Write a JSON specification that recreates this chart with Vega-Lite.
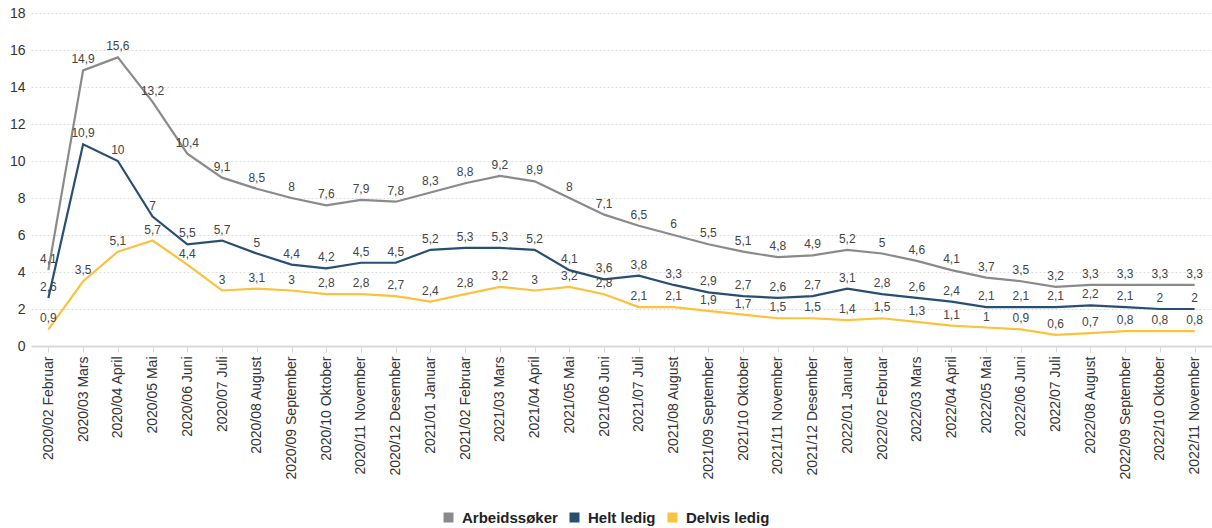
{
  "$schema": "https://vega.github.io/schema/vega-lite/v6.json",
  "width": 1181,
  "height": 333,
  "autosize": "none",
  "padding": {"left": 31, "top": 13, "right": 0, "bottom": 182},
  "background": "white",
  "config": {
    "locale": {"number": {"decimal": ",", "thousands": " ", "grouping": [3], "currency": ["", " kr"]}},
    "font": "Liberation Sans",
    "view": {"stroke": null}
  },
  "data": {"values": [
    {"m": "2020/02 Februar", "Arbeidssøker": 4.1, "Helt ledig": 2.6, "Delvis ledig": 0.9},
    {"m": "2020/03 Mars", "Arbeidssøker": 14.9, "Helt ledig": 10.9, "Delvis ledig": 3.5},
    {"m": "2020/04 April", "Arbeidssøker": 15.6, "Helt ledig": 10, "Delvis ledig": 5.1},
    {"m": "2020/05 Mai", "Arbeidssøker": 13.2, "Helt ledig": 7, "Delvis ledig": 5.7},
    {"m": "2020/06 Juni", "Arbeidssøker": 10.4, "Helt ledig": 5.5, "Delvis ledig": 4.4},
    {"m": "2020/07 Juli", "Arbeidssøker": 9.1, "Helt ledig": 5.7, "Delvis ledig": 3},
    {"m": "2020/08 August", "Arbeidssøker": 8.5, "Helt ledig": 5, "Delvis ledig": 3.1},
    {"m": "2020/09 September", "Arbeidssøker": 8, "Helt ledig": 4.4, "Delvis ledig": 3},
    {"m": "2020/10 Oktober", "Arbeidssøker": 7.6, "Helt ledig": 4.2, "Delvis ledig": 2.8},
    {"m": "2020/11 November", "Arbeidssøker": 7.9, "Helt ledig": 4.5, "Delvis ledig": 2.8},
    {"m": "2020/12 Desember", "Arbeidssøker": 7.8, "Helt ledig": 4.5, "Delvis ledig": 2.7},
    {"m": "2021/01 Januar", "Arbeidssøker": 8.3, "Helt ledig": 5.2, "Delvis ledig": 2.4},
    {"m": "2021/02 Februar", "Arbeidssøker": 8.8, "Helt ledig": 5.3, "Delvis ledig": 2.8},
    {"m": "2021/03 Mars", "Arbeidssøker": 9.2, "Helt ledig": 5.3, "Delvis ledig": 3.2},
    {"m": "2021/04 April", "Arbeidssøker": 8.9, "Helt ledig": 5.2, "Delvis ledig": 3},
    {"m": "2021/05 Mai", "Arbeidssøker": 8, "Helt ledig": 4.1, "Delvis ledig": 3.2},
    {"m": "2021/06 Juni", "Arbeidssøker": 7.1, "Helt ledig": 3.6, "Delvis ledig": 2.8},
    {"m": "2021/07 Juli", "Arbeidssøker": 6.5, "Helt ledig": 3.8, "Delvis ledig": 2.1},
    {"m": "2021/08 August", "Arbeidssøker": 6, "Helt ledig": 3.3, "Delvis ledig": 2.1},
    {"m": "2021/09 September", "Arbeidssøker": 5.5, "Helt ledig": 2.9, "Delvis ledig": 1.9},
    {"m": "2021/10 Oktober", "Arbeidssøker": 5.1, "Helt ledig": 2.7, "Delvis ledig": 1.7},
    {"m": "2021/11 November", "Arbeidssøker": 4.8, "Helt ledig": 2.6, "Delvis ledig": 1.5},
    {"m": "2021/12 Desember", "Arbeidssøker": 4.9, "Helt ledig": 2.7, "Delvis ledig": 1.5},
    {"m": "2022/01 Januar", "Arbeidssøker": 5.2, "Helt ledig": 3.1, "Delvis ledig": 1.4},
    {"m": "2022/02 Februar", "Arbeidssøker": 5, "Helt ledig": 2.8, "Delvis ledig": 1.5},
    {"m": "2022/03 Mars", "Arbeidssøker": 4.6, "Helt ledig": 2.6, "Delvis ledig": 1.3},
    {"m": "2022/04 April", "Arbeidssøker": 4.1, "Helt ledig": 2.4, "Delvis ledig": 1.1},
    {"m": "2022/05 Mai", "Arbeidssøker": 3.7, "Helt ledig": 2.1, "Delvis ledig": 1},
    {"m": "2022/06 Juni", "Arbeidssøker": 3.5, "Helt ledig": 2.1, "Delvis ledig": 0.9},
    {"m": "2022/07 Juli", "Arbeidssøker": 3.2, "Helt ledig": 2.1, "Delvis ledig": 0.6},
    {"m": "2022/08 August", "Arbeidssøker": 3.3, "Helt ledig": 2.2, "Delvis ledig": 0.7},
    {"m": "2022/09 September", "Arbeidssøker": 3.3, "Helt ledig": 2.1, "Delvis ledig": 0.8},
    {"m": "2022/10 Oktober", "Arbeidssøker": 3.3, "Helt ledig": 2, "Delvis ledig": 0.8},
    {"m": "2022/11 November", "Arbeidssøker": 3.3, "Helt ledig": 2, "Delvis ledig": 0.8}
  ]},
  "transform": [
    {"fold": ["Arbeidssøker", "Helt ledig", "Delvis ledig"], "as": ["s", "v"]}
  ],
  "encoding": {
    "x": {
      "field": "m", "type": "ordinal", "sort": null,
      "scale": {"type": "point", "padding": 0.5},
      "axis": {
        "title": null, "labelAngle": 270, "labelFontSize": 14, "labelColor": "#333333",
        "domainColor": "#d9d9d9", "domainWidth": 2, "tickColor": "#d9d9d9", "tickSize": 6,
        "labelPadding": 4, "grid": false
      }
    },
    "y": {
      "field": "v", "type": "quantitative",
      "scale": {"domain": [0, 18], "nice": false},
      "axis": {
        "title": null, "values": [0, 2, 4, 6, 8, 10, 12, 14, 16, 18],
        "labelFontSize": 14, "labelColor": "#333333", "domain": false, "ticks": false,
        "labelPadding": 6, "gridColor": "#dddddd", "gridDash": [2, 2], "gridWidth": 1
      }
    },
    "color": {
      "field": "s", "type": "nominal",
      "scale": {"domain": ["Arbeidssøker", "Helt ledig", "Delvis ledig"], "range": ["#8a8a8a", "#284e72", "#fcc23d"]},
      "legend": {
        "title": null, "orient": "none", "direction": "horizontal", "legendX": 410, "legendY": 497,
        "symbolType": "square", "symbolSize": 25, "symbolStrokeWidth": 5, "labelFontSize": 15, "labelFontWeight": "bold",
        "labelColor": "#222222", "columnPadding": 4, "labelOffset": 6
      }
    }
  },
  "layer": [
    {"mark": {"type": "line", "strokeWidth": 2.2}},
    {
      "mark": {"type": "text", "dy": -11, "fontSize": 12, "color": "#444444"},
      "encoding": {
        "text": {"field": "v", "type": "quantitative", "format": ".1~f"},
        "color": {"value": "#444444"}
      }
    }
  ]
}
